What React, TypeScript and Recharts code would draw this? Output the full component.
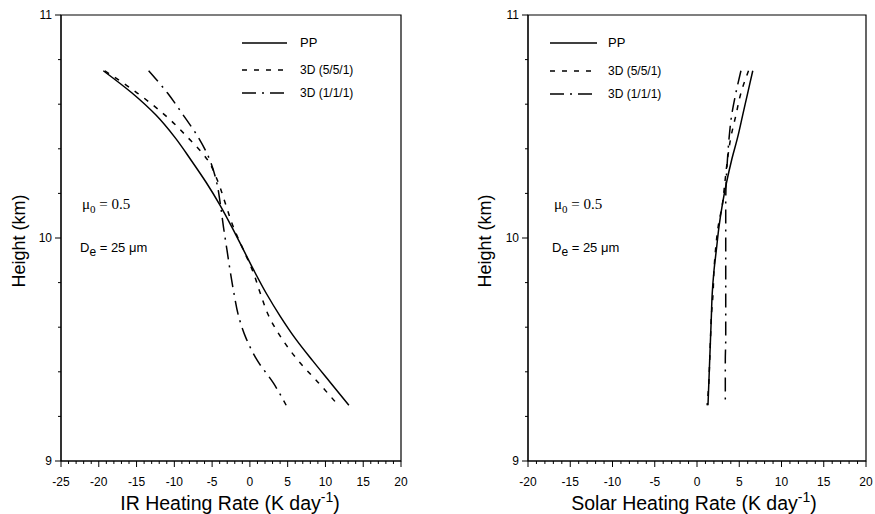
import React from 'react';
import { LineChart, Line, XAxis, YAxis, ReferenceArea } from 'recharts';

// ── Data ───────────────────────────────────────────────────────
// heights in km, top to bottom
const heights = [10.75, 10.65, 10.55, 10.45, 10.35, 10.25, 10.15, 10.05, 9.95, 9.85, 9.75, 9.65, 9.55, 9.45, 9.35, 9.25];

// IR heating rate (K/day)
const irPP   = [-19.4, -15.6, -12.4, -9.9, -7.8, -5.8, -4.0, -2.4, -0.9, 0.6, 2.2, 4.0, 6.0, 8.3, 10.7, 13.1];
const ir551  = [-19.2, -14.9, -11.2, -8.2, -5.6, -4.2, -3.2, -2.2, -0.9, 0.4, 1.4, 2.5, 4.2, 6.4, 9.1, 11.7];
const ir111  = [-13.4, -10.9, -8.8, -6.8, -5.3, -4.4, -3.9, -3.5, -3.05, -2.6, -2.1, -1.5, -0.5, 1.0, 3.1, 4.8];

// Solar heating rate (K/day)
const solarPP  = [6.6, 6.0, 5.4, 4.8, 4.1, 3.5, 3.0, 2.6, 2.3, 2.0, 1.8, 1.7, 1.6, 1.5, 1.4, 1.3];
const solar551 = [6.1, 5.2, 4.6, 4.0, 3.6, 3.3, 3.0, 2.5, 2.2, 2.0, 1.9, 1.7, 1.6, 1.5, 1.4, 1.2];
const solar111 = [5.2, 4.6, 4.1, 3.8, 3.6, 3.45, 3.4, 3.4, 3.4, 3.4, 3.4, 3.4, 3.4, 3.35, 3.35, 3.35];

// ── Ticks ───────────────────────────────────────────────────────
const irMajorX = [-25, -20, -15, -10, -5, 0, 5, 10, 15, 20];
const solarMajorX = [-20, -15, -10, -5, 0, 5, 10, 15, 20];
const yMajor = [9, 10, 11];
const yTicks = [9, 9.2, 9.4, 9.6, 9.8, 10, 10.2, 10.4, 10.6, 10.8, 11];
// minor x ticks every 1 K/day
const irXTicks = Array.from({ length: 46 }, (_, i) => -25 + i);
const solarXTicks = Array.from({ length: 41 }, (_, i) => -20 + i);

const seriesNames = ['PP', '3D (5/5/1)', '3D (1/1/1)'];

const irData = heights.map((h, i) => ({ h, pp: irPP[i], d551: ir551[i], d111: ir111[i] }));
const solarData = heights.map((h, i) => ({ h, pp: solarPP[i], d551: solar551[i], d111: solar111[i] }));

// ── Styles ──────────────────────────────────────────────────────
const SANS = '"Liberation Sans", Arial, Helvetica, sans-serif';
const SERIF = '"Liberation Serif", "Times New Roman", serif';
const DASH = '5 7';
const DASHDOT = '14 6 2 6';
const dashes = [undefined, DASH, DASHDOT];

function XTick(props: any) {
  const { x, y, payload, majors } = props;
  const major = majors.includes(payload.value);
  return (
    <g>
      <line x1={x} x2={x} y1={y} y2={y + (major ? 6 : 3)} stroke="#000" strokeWidth={1} />
      {major && (
        <text x={x} y={y + 25} textAnchor="middle" fontSize={12} fontFamily={SANS} fill="#000">
          {payload.value}
        </text>
      )}
    </g>
  );
}

function YTick(props: any) {
  const { x, y, payload } = props;
  const major = yMajor.includes(payload.value);
  return (
    <g>
      <line x1={x} x2={x - (major ? 6 : 3)} y1={y} y2={y} stroke="#000" strokeWidth={1} />
      {major && (
        <text x={x - 9} y={y + 4} textAnchor="end" fontSize={12} fontFamily={SANS} fill="#000">
          {payload.value}
        </text>
      )}
    </g>
  );
}

function Panel({ data, domain, ticks, majors, yWidth, width, right }: any) {
  return (
    <LineChart
      width={width}
      height={514}
      layout="vertical"
      data={data}
      margin={{ top: 15, right, bottom: 13, left: 0 }}
    >
      <XAxis
        type="number"
        domain={domain}
        ticks={ticks}
        interval={0}
        allowDataOverflow
        height={40}
        tickSize={0}
        tickMargin={0}
        tickLine={false}
        axisLine={{ stroke: '#000' }}
        tick={(p: any) => <XTick {...p} majors={majors} />}
      />
      <YAxis
        type="number"
        dataKey="h"
        domain={[9, 11]}
        reversed
        ticks={yTicks}
        interval={0}
        width={yWidth}
        tickSize={0}
        tickMargin={0}
        tickLine={false}
        axisLine={{ stroke: '#000' }}
        tick={(p: any) => <YTick {...p} />}
      />
      <ReferenceArea x1={domain[0]} x2={domain[1]} y1={9} y2={11} fill="none" stroke="#000" strokeWidth={1.2} />
      <Line dataKey="pp" type="monotone" stroke="#000" strokeWidth={1.5} dot={false} isAnimationActive={false} />
      <Line dataKey="d551" type="monotone" stroke="#000" strokeWidth={1.5} strokeDasharray={DASH} dot={false} isAnimationActive={false} />
      <Line dataKey="d111" type="monotone" stroke="#000" strokeWidth={1.5} strokeDasharray={DASHDOT} dot={false} isAnimationActive={false} />
    </LineChart>
  );
}

function Legend({ x1, x2, tx, rows }: { x1: number; x2: number; tx: number; rows: number[] }) {
  return (
    <g>
      {seriesNames.map((name, i) => (
        <g key={name}>
          <line x1={x1} x2={x2} y1={rows[i]} y2={rows[i]} stroke="#000" strokeWidth={1.5} strokeDasharray={dashes[i]} />
          <text x={tx} y={rows[i] + 4} fontSize={i === 0 ? 13 : 12} fontFamily={SANS} fill="#000">{name}</text>
        </g>
      ))}
    </g>
  );
}

function Notes({ x }: { x: number }) {
  return (
    <g fill="#000">
      <text x={x + 2} y={209} fontSize={15} fontFamily={SERIF}>
        μ<tspan dy={4} fontSize={11}>0</tspan><tspan dy={-4}> = 0.5</tspan>
      </text>
      <text x={x} y={252} fontSize={13} fontFamily={SANS}>
        D<tspan dy={4} fontSize={12}>e</tspan><tspan dy={-4}> = 25 μm</tspan>
      </text>
    </g>
  );
}

function AxisTitle({ x, y, text }: { x: number; y: number; text: string }) {
  return (
    <text x={x} y={y} textAnchor="middle" fontSize={19.5} fontFamily={SANS} fill="#000">
      {text}<tspan dy={-8} fontSize={14}>-1</tspan><tspan dy={8}>)</tspan>
    </text>
  );
}

export default function App() {
  return (
    <div style={{ position: 'absolute', left: 0, top: 0, width: 875, height: 514, background: '#fff' }}>
      <div style={{ position: 'absolute', left: 0, top: 0 }}>
        <Panel data={irData} domain={[-25, 20]} ticks={irXTicks} majors={irMajorX} yWidth={61} width={430} right={29} />
      </div>
      <div style={{ position: 'absolute', left: 440, top: 0 }}>
        <Panel data={solarData} domain={[-20, 20]} ticks={solarXTicks} majors={solarMajorX} yWidth={88} width={435} right={9} />
      </div>
      <svg width={875} height={514} style={{ position: 'absolute', left: 0, top: 0, pointerEvents: 'none' }}>
        <Legend x1={242} x2={287} tx={300} rows={[43, 70, 93]} />
        <Legend x1={550} x2={597} tx={608} rows={[43, 71, 94]} />
        <Notes x={80} />
        <Notes x={552} />
        <AxisTitle x={230} y={510} text="IR Heating Rate (K day" />
        <AxisTitle x={694} y={510} text="Solar Heating Rate (K day" />
        <text transform="translate(25,241) rotate(-90)" textAnchor="middle" fontSize={18} fontFamily={SANS} fill="#000">Height (km)</text>
        <text transform="translate(491,241) rotate(-90)" textAnchor="middle" fontSize={18} fontFamily={SANS} fill="#000">Height (km)</text>
      </svg>
    </div>
  );
}
